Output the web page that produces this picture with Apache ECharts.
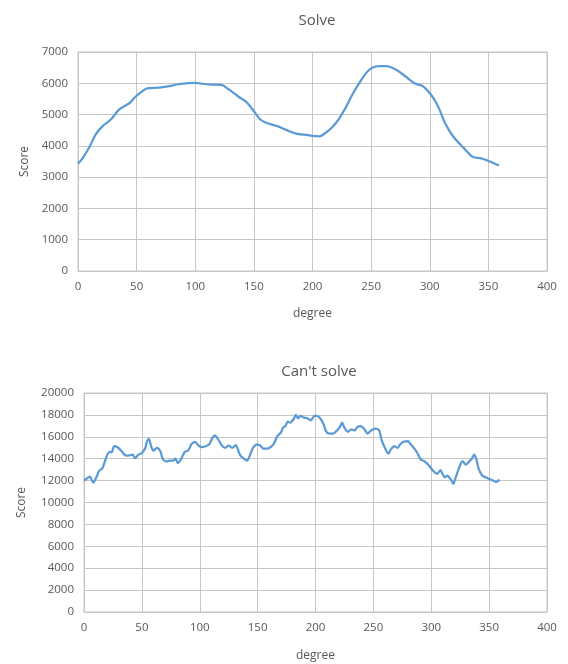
<!DOCTYPE html>
<html>
<head>
<meta charset="utf-8">
<script src="https://cdn.jsdelivr.net/npm/echarts@6/dist/echarts.min.js"></script>
<style>
  html, body { margin: 0; padding: 0; background: #ffffff; }
  #chart { width: 568px; height: 664px; }
</style>
</head>
<body>
<div id="chart"></div>
<script>
// Solve: score by degree
const solveDeg = [0, 4, 10, 15, 21, 28, 35, 44, 49, 55, 59, 69, 78, 86, 100, 106, 114, 123, 128, 137,
  143, 149, 155, 161, 170, 177, 186, 193, 200, 206, 211, 217, 223, 229, 234, 240, 246, 251, 257, 263,
  271, 280, 287, 294, 301, 307, 313, 320, 329, 337, 343, 349, 354, 359];
const solveScore = [3430, 3610, 3980, 4360, 4630, 4840, 5160, 5370, 5570, 5750, 5840, 5860, 5910, 5970, 6010, 5985, 5960, 5940, 5820, 5570,
  5420, 5160, 4860, 4730, 4630, 4520, 4390, 4360, 4320, 4305, 4410, 4600, 4890, 5270, 5640, 6010, 6340, 6500, 6550, 6550,
  6440, 6200, 6000, 5910, 5640, 5270, 4730, 4300, 3930, 3640, 3610, 3535, 3450, 3370];

// Can't solve: score by degree
const cantDeg = [0, 2, 5, 8, 11, 13, 16, 19, 22, 24, 26, 29, 32, 35, 37, 39, 42, 44, 47, 50,
  53, 54, 56, 58, 60, 63, 66, 68, 71, 74, 77, 79, 81, 84, 87, 90, 93, 96, 99, 102,
  105, 108, 111, 113, 116, 119, 122, 125, 128, 131, 133, 135, 138, 141, 143, 146, 149, 152, 155, 158,
  161, 164, 167, 170, 172, 174, 176, 178, 181, 183, 185, 187, 190, 193, 196, 199, 201, 204, 207, 209,
  212, 215, 218, 221, 223, 225, 228, 231, 234, 236, 239, 242, 245, 248, 252, 255, 257, 260, 263, 265,
  268, 271, 273, 276, 280, 282, 285, 288, 291, 294, 298, 302, 305, 308, 310, 312, 314, 317, 319, 321,
  324, 327, 330, 333, 335, 337, 339, 341, 344, 347, 350, 353, 356, 359];
const cantScore = [12000, 12150, 12370, 11815, 12370, 12890, 13140, 14060, 14615, 14585, 15140, 15050, 14740, 14370, 14280, 14300, 14370, 14060, 14370, 14520,
  14985, 15450, 15815, 15140, 14740, 14985, 14680, 14000, 13750, 13815, 13815, 14000, 13600, 14000, 14615, 14740, 15350, 15540, 15200, 15050,
  15140, 15290, 15900, 16120, 15750, 15230, 14985, 15200, 14985, 15230, 14830, 14300, 14000, 13815, 14215, 14985, 15290, 15230, 14920, 14920,
  15050, 15350, 16060, 16370, 16830, 16985, 17385, 17290, 17600, 18000, 17690, 17910, 17750, 17690, 17500, 17910, 17910, 17690, 17140, 16520,
  16280, 16280, 16520, 16890, 17290, 16830, 16460, 16680, 16580, 16890, 16985, 16740, 16280, 16580, 16740, 16580, 15750, 14985, 14460, 14830,
  15140, 14985, 15290, 15540, 15600, 15350, 14985, 14520, 13920, 13770, 13370, 12855, 12610, 12950, 12550, 12305, 12460, 12090, 11695, 12245,
  13160, 13770, 13465, 13770, 13985, 14380, 13925, 13070, 12460, 12305, 12150, 12030, 11880, 12090];

const xTicks = { min: 0, max: 400, interval: 50 };
const solveTicks = { min: 0, max: 7000, interval: 1000 };
const cantTicks = { min: 0, max: 20000, interval: 2000 };

const textColor = '#595959';
const gridColor = '#c6c6c6';
const lineColor = '#5b9bd5';
const font = 'Open Sans, Noto Sans, sans-serif';

function pairs(xs, ys) { return xs.map((x, i) => [x, ys[i]]); }

function xAxisFor(gridIndex, gap) {
  return {
    type: 'value', gridIndex, min: xTicks.min, max: xTicks.max, interval: xTicks.interval,
    name: 'degree', nameLocation: 'middle', nameGap: gap,
    nameTextStyle: { color: textColor, fontSize: 12, fontFamily: font },
    axisLine: { show: true, lineStyle: { color: gridColor, width: 1 } },
    axisTick: { show: false },
    axisLabel: { color: textColor, fontSize: 11.5, fontFamily: font, margin: 10 },
    splitLine: { show: true, lineStyle: { color: gridColor, width: 1 } }
  };
}

function yAxisFor(gridIndex, ticks, gap) {
  return {
    type: 'value', gridIndex, min: ticks.min, max: ticks.max, interval: ticks.interval,
    name: 'Score', nameLocation: 'middle', nameGap: gap,
    nameTextStyle: { color: textColor, fontSize: 12, fontFamily: font },
    axisLine: { show: true, lineStyle: { color: gridColor, width: 1 } },
    axisTick: { show: false },
    axisLabel: { color: textColor, fontSize: 11.5, fontFamily: font, margin: 10,
      formatter: v => String(v) },
    splitLine: { show: true, lineStyle: { color: gridColor, width: 1 } }
  };
}

const chart = echarts.init(document.getElementById('chart'), null, { renderer: 'canvas' });
chart.setOption({
  animation: false,
  backgroundColor: '#ffffff',
  title: [
    { text: 'Solve', left: 312, top: 8, textAlign: 'center',
      textStyle: { color: textColor, fontSize: 15, fontWeight: 'normal', fontFamily: font } },
    { text: "Can't solve", left: 314, top: 359, textAlign: 'center',
      textStyle: { color: textColor, fontSize: 15, fontWeight: 'normal', fontFamily: font } }
  ],
  grid: [
    { left: 78, top: 52, width: 469, height: 219, containLabel: false, show: true, borderColor: gridColor, borderWidth: 1 },
    { left: 84, top: 393, width: 463, height: 219, containLabel: false, show: true, borderColor: gridColor, borderWidth: 1 }
  ],
  xAxis: [xAxisFor(0, 37), xAxisFor(1, 38)],
  yAxis: [yAxisFor(0, solveTicks, 46), yAxisFor(1, cantTicks, 56)],
  series: [
    { type: 'line', xAxisIndex: 0, yAxisIndex: 0, data: pairs(solveDeg, solveScore),
      smooth: 0.3, showSymbol: false, lineStyle: { color: lineColor, width: 2.25 } },
    { type: 'line', xAxisIndex: 1, yAxisIndex: 1, data: pairs(cantDeg, cantScore),
      smooth: 0.25, showSymbol: false, lineStyle: { color: lineColor, width: 2.25 } }
  ]
});
</script>
</body>
</html>
